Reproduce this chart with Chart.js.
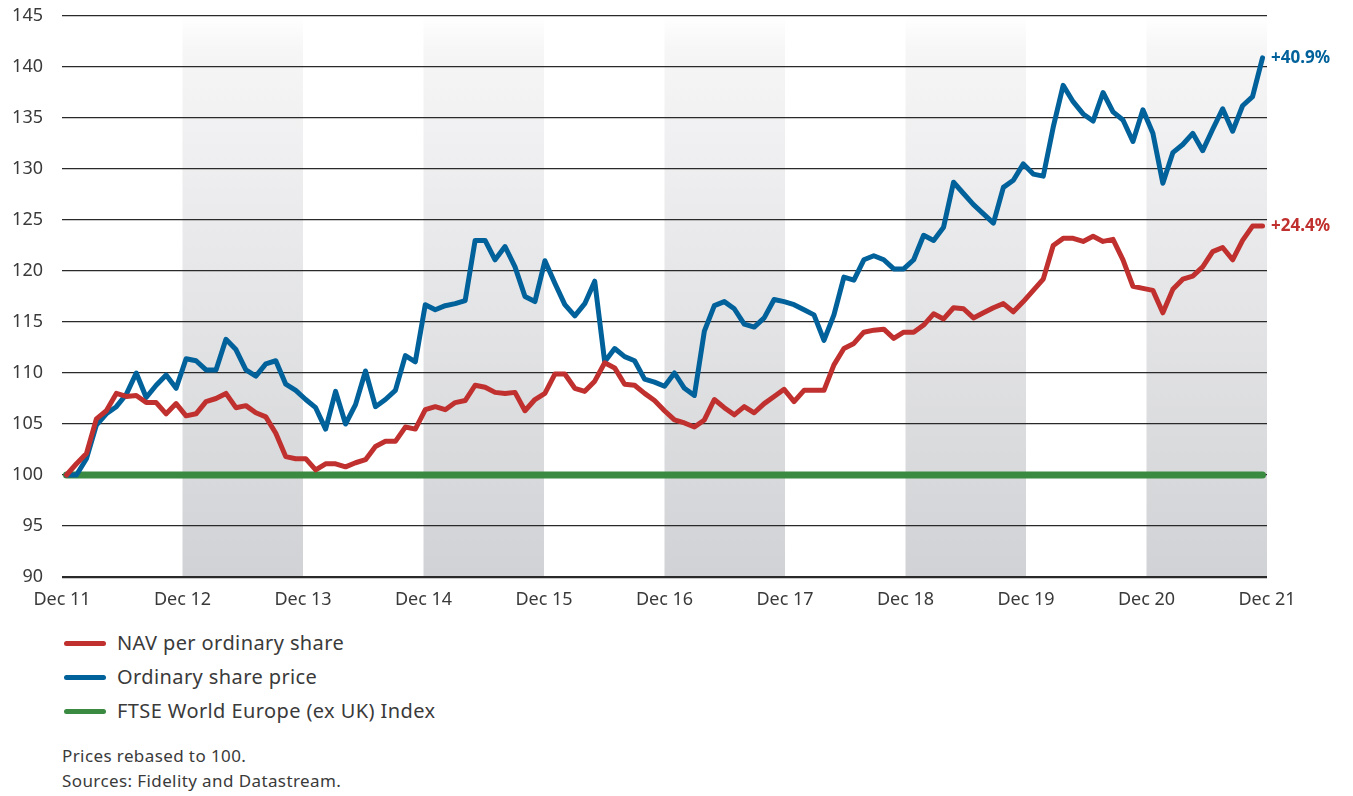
<!DOCTYPE html>
<html>
<head>
<meta charset="utf-8">
<script src="https://cdn.jsdelivr.net/npm/chart.js@4.4.1/dist/chart.umd.min.js"></script>
<style>
  body { margin: 0; background: #fff; font-family: "Noto Sans", sans-serif; color: #3a3a3a; }
  #wrap { position: relative; width: 1353px; height: 796px; }
  canvas { position: absolute; left: 0; top: 0; }
  .legend { position: absolute; left: 64px; top: 626px; }
  .legend div { height: 34px; line-height: 30px; font-size: 20px; letter-spacing: 0.4px; display: flex; align-items: center; }
  .legend span.mark { display: inline-block; width: 42px; height: 5px; border-radius: 3px; margin-right: 11px; }
  .note { position: absolute; left: 62px; top: 743px; font-size: 17px; letter-spacing: 0.4px; line-height: 25px; }
</style>
</head>
<body>
<div id="wrap">
  <canvas id="myChart" width="1353" height="620"></canvas>
  <div class="legend" id="legend"></div>
  <div class="note">Prices rebased to 100.<br>Sources: Fidelity and Datastream.</div>
</div>
<script>
// monthly values, Dec 11 .. Dec 21 (121 points)
const yearLabels = ["Dec 11", "Dec 12", "Dec 13", "Dec 14", "Dec 15", "Dec 16",
                    "Dec 17", "Dec 18", "Dec 19", "Dec 20", "Dec 21"];

const navValues = [
  100, 101.1, 102.1, 105.5, 106.3, 108.0, 107.7, 107.8, 107.1, 107.1, 106.0, 107.0,
  105.8, 106.0, 107.2, 107.5, 108.0, 106.6, 106.8, 106.1, 105.7, 104.1, 101.8, 101.6,
  101.6, 100.5, 101.1, 101.1, 100.8, 101.2, 101.5, 102.8, 103.3, 103.3, 104.7, 104.5,
  106.4, 106.7, 106.4, 107.1, 107.3, 108.8, 108.6, 108.1, 108.0, 108.1, 106.3, 107.4,
  108.0, 109.9, 109.9, 108.5, 108.2, 109.2, 111.0, 110.5, 108.9, 108.8, 108.0, 107.3,
  106.3, 105.4, 105.1, 104.7, 105.4, 107.4, 106.6, 105.9, 106.7, 106.1, 107.0, 107.7,
  108.4, 107.2, 108.3, 108.3, 108.3, 110.8, 112.4, 112.9, 114.0, 114.2, 114.3, 113.4,
  114.0, 114.0, 114.7, 115.8, 115.3, 116.4, 116.3, 115.4, 115.9, 116.4, 116.8, 116.0,
  117.0, 118.1, 119.2, 122.5, 123.2, 123.2, 122.9, 123.4, 122.9, 123.1, 121.1, 118.5,
  118.3, 118.1, 115.9, 118.2, 119.2, 119.5, 120.4, 121.9, 122.3, 121.1, 123.0, 124.4,
  124.4
];

const priceValues = [
  100, 100, 101.6, 104.9, 106.0, 106.7, 107.9, 110.0, 107.6, 108.8, 109.8, 108.5,
  111.4, 111.2, 110.3, 110.3, 113.3, 112.3, 110.3, 109.7, 110.9, 111.2, 108.9, 108.3,
  107.4, 106.6, 104.5, 108.2, 105.0, 106.9, 110.2, 106.7, 107.4, 108.3, 111.7, 111.1,
  116.7, 116.2, 116.6, 116.8, 117.1, 123.0, 123.0, 121.1, 122.4, 120.4, 117.5, 117.0,
  121.0, 118.8, 116.7, 115.6, 116.8, 119.0, 111.1, 112.4, 111.6, 111.2, 109.4, 109.1,
  108.7, 110.0, 108.5, 107.8, 114.1, 116.6, 117.0, 116.3, 114.8, 114.5, 115.4, 117.2,
  117.0, 116.7, 116.2, 115.7, 113.2, 115.7, 119.4, 119.1, 121.1, 121.5, 121.1, 120.2,
  120.2, 121.1, 123.5, 123.0, 124.3, 128.7, 127.6, 126.5, 125.6, 124.7, 128.2, 128.9,
  130.5, 129.5, 129.3, 134.1, 138.2, 136.6, 135.4, 134.7, 137.5, 135.6, 134.8, 132.7,
  135.8, 133.5, 128.6, 131.6, 132.4, 133.5, 131.8, 133.9, 135.9, 133.7, 136.2, 137.1,
  140.9
];

const indexValues = [
  100, 100, 100, 100, 100, 100, 100, 100, 100, 100, 100, 100,
  100, 100, 100, 100, 100, 100, 100, 100, 100, 100, 100, 100,
  100, 100, 100, 100, 100, 100, 100, 100, 100, 100, 100, 100,
  100, 100, 100, 100, 100, 100, 100, 100, 100, 100, 100, 100,
  100, 100, 100, 100, 100, 100, 100, 100, 100, 100, 100, 100,
  100, 100, 100, 100, 100, 100, 100, 100, 100, 100, 100, 100,
  100, 100, 100, 100, 100, 100, 100, 100, 100, 100, 100, 100,
  100, 100, 100, 100, 100, 100, 100, 100, 100, 100, 100, 100,
  100, 100, 100, 100, 100, 100, 100, 100, 100, 100, 100, 100,
  100, 100, 100, 100, 100, 100, 100, 100, 100, 100, 100, 100,
  100
];

const seriesNames = ["NAV per ordinary share", "Ordinary share price", "FTSE World Europe (ex UK) Index"];
const seriesColors = ["#c0302e", "#00619b", "#3a8a41"];

const X_MIN = -0.45, X_MAX = 120.45;
const tickPos = k => X_MIN + k * (X_MAX - X_MIN) / (yearLabels.length - 1);

Chart.defaults.font.family = '"Noto Sans", sans-serif';
Chart.defaults.color = '#3a3a3a';

// grey gradient bands on alternate years
const bands = {
  id: 'bands',
  beforeDraw(chart) {
    const { ctx, chartArea: a, scales: { x } } = chart;
    const g = ctx.createLinearGradient(0, a.top, 0, a.bottom);
    g.addColorStop(0, '#ffffff');
    g.addColorStop(0.06, '#f6f6f7');
    g.addColorStop(1, '#d1d2d5');
    ctx.save();
    ctx.fillStyle = g;
    for (let k = 1; k < yearLabels.length - 1; k += 2) {
      const x0 = x.getPixelForValue(tickPos(k));
      const x1 = x.getPixelForValue(tickPos(k + 1));
      ctx.fillRect(x0, a.top, x1 - x0, a.bottom - a.top);
    }
    ctx.restore();
  }
};

// end labels (+40.9%, +24.4%)
const endLabels = {
  id: 'endLabels',
  afterDatasetsDraw(chart) {
    const { ctx, chartArea: a } = chart;
    ctx.save();
    ctx.font = 'bold 17px "Noto Sans", sans-serif';
    ctx.textAlign = 'left';
    ctx.textBaseline = 'middle';
    [0, 1].forEach(i => {
      const ds = chart.data.datasets[i];
      const meta = chart.getDatasetMeta(i);
      const last = ds.data.length - 1;
      const v = ds.data[last].y;
      ctx.fillStyle = seriesColors[i];
      ctx.fillText('+' + (v - 100).toFixed(1) + '%', a.right + 4, meta.data[last].y);
    });
    ctx.restore();
  }
};

const toPoints = arr => arr.map((v, i) => ({ x: i, y: v }));

new Chart("myChart", {
  type: "line",
  data: {
    datasets: [
      { label: seriesNames[0], data: toPoints(navValues), borderColor: seriesColors[0], borderWidth: 5 },
      { label: seriesNames[1], data: toPoints(priceValues), borderColor: seriesColors[1], borderWidth: 5 },
      { label: seriesNames[2], data: toPoints(indexValues), borderColor: seriesColors[2], borderWidth: 7 }
    ]
  },
  options: {
    responsive: false,
    animation: false,
    layout: { padding: { top: 16, right: 86, left: 0, bottom: 0 } },
    elements: {
      point: { radius: 0 },
      line: { tension: 0, borderJoinStyle: 'round', borderCapStyle: 'round' }
    },
    plugins: { legend: { display: false }, tooltip: { enabled: false } },
    scales: {
      x: {
        type: 'linear',
        min: X_MIN,
        max: X_MAX,
        afterBuildTicks: s => { s.ticks = yearLabels.map((_, k) => ({ value: tickPos(k) })); },
        afterFit: s => { s.height = 43; s.paddingLeft = 0; s.paddingRight = 0; },
        grid: { display: false, drawTicks: false },
        border: { display: false },
        ticks: {
          autoSkip: false,
          maxRotation: 0,
          padding: 12,
          font: { size: 18 },
          callback: (v, i) => yearLabels[i]
        }
      },
      y: {
        min: 90,
        max: 145,
        afterFit: s => { s.width = 62; s.paddingTop = 0; s.paddingBottom = 0; },
        grid: {
          drawTicks: false,
          color: '#2a2a2a',
          lineWidth: c => c.tick && c.tick.value === 90 ? 2.2 : 1.3
        },
        border: { display: false },
        ticks: { stepSize: 5, padding: 19, font: { size: 18 } }
      }
    }
  },
  plugins: [bands, endLabels]
});

// legend below the chart
const legend = document.getElementById('legend');
seriesNames.forEach((name, i) => {
  const row = document.createElement('div');
  row.innerHTML = '<span class="mark" style="background:' + seriesColors[i] + '"></span>' + name;
  legend.appendChild(row);
});
</script>
</body>
</html>
